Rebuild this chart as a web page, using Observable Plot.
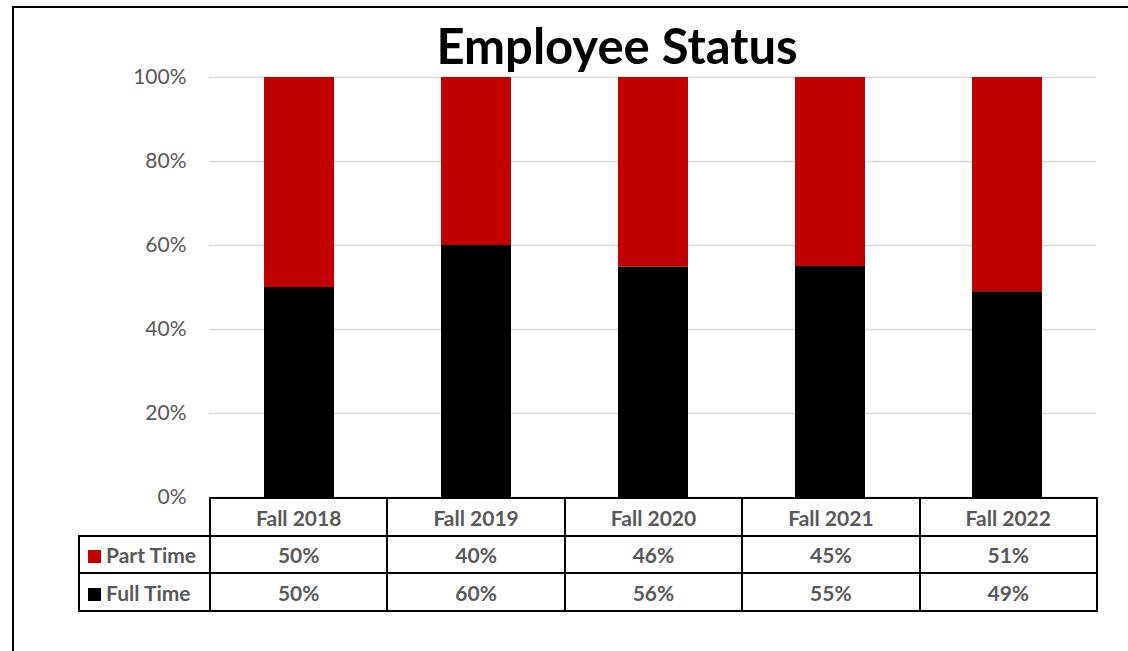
<!DOCTYPE html>
<html>
<head>
<meta charset="utf-8">
<script src="https://cdn.jsdelivr.net/npm/d3@7"></script>
<script src="https://cdn.jsdelivr.net/npm/@observablehq/plot@0.6"></script>
<style>
  html, body { margin: 0; padding: 0; background: #fff; }
  #wrap { position: relative; width: 1128px; height: 651px; overflow: hidden; background: #fff; font-family: Lato, "Open Sans", sans-serif; }
  #frame { position: absolute; left: 12px; top: 6px; width: 1200px; height: 700px; border-top: 2px solid #000; border-left: 2px solid #000; }
  #title { position: absolute; left: 0; width: 1234px; top: 15px; text-align: center; font-weight: 700; font-size: 49px; color: #000; line-height: 60px; }
  #chart { position: absolute; left: 0; top: 0; }
  #tbl { position: absolute; left: 78px; top: 497px; border-collapse: collapse; font-weight: 700; font-size: 21px; color: #595959; }
  #tbl td { border: 2px solid #000; text-align: center; padding: 0; box-sizing: border-box; }
  #tbl td.lab { text-align: left; padding-left: 8px; width: 131px; white-space: nowrap; }
  #tbl td.empty { border: none; border-right: 2px solid #000; border-bottom: 2px solid #000; }
  #tbl td.col { width: 177.4px; }
  .sw { display: inline-block; width: 13px; height: 13px; margin-right: 5px; vertical-align: 0px; }
</style>
</head>
<body>
<div id="wrap">
  <div id="frame"></div>
  <div id="chart"></div>
  <div id="title">Employee Status</div>
  <table id="tbl"></table>
</div>
<script>
const categories = ["Fall 2018", "Fall 2019", "Fall 2020", "Fall 2021", "Fall 2022"];
const seriesNames = ["Full Time", "Part Time"];
const partTime = [50, 40, 46, 45, 51];
const fullTime = [50, 60, 56, 55, 49];
const seriesColors = ["#000000", "#c00000"];
const yTicks = [0, 0.2, 0.4, 0.6, 0.8, 1.0];

const rows = [];
categories.forEach((c, i) => {
  rows.push({year: c, status: "Full Time", value: fullTime[i]});
  rows.push({year: c, status: "Part Time", value: partTime[i]});
});

const W = 1128, H = 512;
const chart = Plot.plot({
  width: W,
  height: H,
  marginTop: 77,
  marginBottom: H - 497,
  marginLeft: 209,
  marginRight: 32,
  style: { fontFamily: "Lato, 'Open Sans', sans-serif", fontSize: "21px", color: "#595959", background: "transparent" },
  x: { domain: categories, paddingInner: 0.605, paddingOuter: 0.3025, axis: null },
  y: { domain: [0, 1], ticks: yTicks, tickFormat: d3.format(".0%"), tickSize: 0, tickPadding: 23, label: null },
  color: { domain: seriesNames, range: seriesColors },
  marks: [
    Plot.gridY(yTicks, { stroke: "#d9d9d9", strokeOpacity: 1, strokeWidth: 1.5 }),
    Plot.barY(rows, Plot.stackY({
      x: "year", y: "value", fill: "status", offset: "normalize", order: seriesNames,
      style: "filter: drop-shadow(1px 1px 2px rgba(0,0,0,0.35))"
    }))
  ]
});
document.getElementById("chart").appendChild(chart);

// data table
const tbl = document.getElementById("tbl");
let html = "<tr style='height:38px'><td class='lab empty'></td>" + categories.map(c => `<td class='col'>${c}</td>`).join("") + "</tr>";
html += `<tr style='height:37px'><td class='lab'><span class='sw' style='background:${seriesColors[1]}'></span>${seriesNames[1]}</td>` + partTime.map(v => `<td class='col'>${v}%</td>`).join("") + "</tr>";
html += `<tr style='height:38px'><td class='lab'><span class='sw' style='background:${seriesColors[0]}'></span>${seriesNames[0]}</td>` + fullTime.map(v => `<td class='col'>${v}%</td>`).join("") + "</tr>";
tbl.innerHTML = html;
</script>
</body>
</html>
